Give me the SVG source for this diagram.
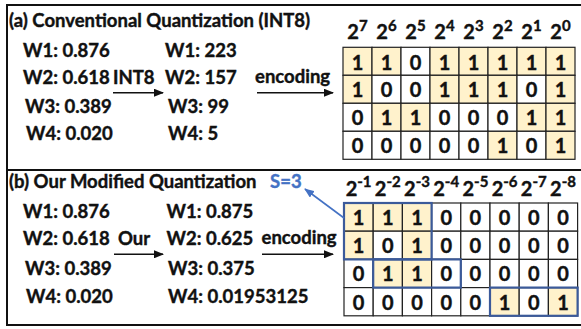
<svg xmlns="http://www.w3.org/2000/svg" width="581" height="329" viewBox="0 0 581 329">
<defs>
<style>
text{font-family:Lato,"Liberation Sans",sans-serif;font-weight:700;fill:#111;stroke:#111;stroke-width:0.4;}
.t{font-size:18.5px;}
.d{font-size:20px;text-anchor:middle;}
.h{font-size:20px;text-anchor:middle;}
.sup{font-size:15px;}
.blue-t{fill:#4472C4;stroke:#4472C4;}
.c0{fill:#fff;stroke:#222;stroke-width:1.2;}
.c1{fill:#FFF2CC;stroke:#222;stroke-width:1.2;}
.blue{fill:none;stroke:#3B5A9A;stroke-width:2.2;}
.frame{fill:none;stroke:#111;stroke-width:2;}
.arr{stroke:#111;stroke-width:1.6;fill:none;marker-end:url(#ah);}
</style>
<marker id="ah" markerWidth="10" markerHeight="8" refX="9" refY="4" orient="auto" markerUnits="userSpaceOnUse">
<path d="M0,0 L10,4 L0,8 Z" fill="#111"/>
</marker>
<marker id="ahb" markerWidth="10" markerHeight="8" refX="9" refY="4" orient="auto" markerUnits="userSpaceOnUse">
<path d="M0,0 L10,4 L0,8 Z" fill="#4472C4"/>
</marker>
</defs>
<rect width="581" height="329" fill="#fff"/>
<g id="frame">
<rect class="frame" x="7" y="5" width="600" height="320"/>
<line x1="7" y1="170" x2="581" y2="170" stroke="#111" stroke-width="2"/>
</g>

<g id="panel-a">
<text class="t" x="9" y="27">(a) Conventional Quantization (INT8)</text>
<text class="t" x="23" y="57">W1: 0.876</text>
<text class="t" x="23" y="84">W2: 0.618</text>
<text class="t" x="25" y="113">W3: 0.389</text>
<text class="t" x="26" y="140">W4: 0.020</text>
<text class="t" x="113" y="84">INT8</text>
<text class="t" x="165" y="57">W1: 223</text>
<text class="t" x="165" y="84">W2: 157</text>
<text class="t" x="168" y="113">W3: 99</text>
<text class="t" x="168" y="140">W4: 5</text>
<text class="t" x="255" y="83">encoding</text>
</g>

<g id="grid-a">
<g id="grid-a-header">
<text class="h" x="357.5" y="39">2<tspan class="sup" dy="-8">7</tspan></text>
<text class="h" x="386.5" y="39">2<tspan class="sup" dy="-8">6</tspan></text>
<text class="h" x="415.5" y="39">2<tspan class="sup" dy="-8">5</tspan></text>
<text class="h" x="444.5" y="39">2<tspan class="sup" dy="-8">4</tspan></text>
<text class="h" x="473.5" y="39">2<tspan class="sup" dy="-8">3</tspan></text>
<text class="h" x="502.5" y="39">2<tspan class="sup" dy="-8">2</tspan></text>
<text class="h" x="531.5" y="39">2<tspan class="sup" dy="-8">1</tspan></text>
<text class="h" x="560.5" y="39">2<tspan class="sup" dy="-8">0</tspan></text>
</g>
<g id="grid-a-row1">
<rect class="c1" x="343" y="47.3" width="29" height="28"/><rect class="c1" x="372" y="47.3" width="29" height="28"/><rect class="c0" x="401" y="47.3" width="29" height="28"/><rect class="c1" x="430" y="47.3" width="29" height="28"/><rect class="c1" x="459" y="47.3" width="29" height="28"/><rect class="c1" x="488" y="47.3" width="29" height="28"/><rect class="c1" x="517" y="47.3" width="29" height="28"/><rect class="c1" x="546" y="47.3" width="29" height="28"/>
<text class="d" x="357.5" y="69.5">1</text><text class="d" x="386.5" y="69.5">1</text><text class="d" x="415.5" y="69.5">0</text><text class="d" x="444.5" y="69.5">1</text><text class="d" x="473.5" y="69.5">1</text><text class="d" x="502.5" y="69.5">1</text><text class="d" x="531.5" y="69.5">1</text><text class="d" x="560.5" y="69.5">1</text>
</g>
<g id="grid-a-row2">
<rect class="c1" x="343" y="75.3" width="29" height="28"/><rect class="c0" x="372" y="75.3" width="29" height="28"/><rect class="c0" x="401" y="75.3" width="29" height="28"/><rect class="c1" x="430" y="75.3" width="29" height="28"/><rect class="c1" x="459" y="75.3" width="29" height="28"/><rect class="c1" x="488" y="75.3" width="29" height="28"/><rect class="c0" x="517" y="75.3" width="29" height="28"/><rect class="c1" x="546" y="75.3" width="29" height="28"/>
<text class="d" x="357.5" y="97.3">1</text><text class="d" x="386.5" y="97.3">0</text><text class="d" x="415.5" y="97.3">0</text><text class="d" x="444.5" y="97.3">1</text><text class="d" x="473.5" y="97.3">1</text><text class="d" x="502.5" y="97.3">1</text><text class="d" x="531.5" y="97.3">0</text><text class="d" x="560.5" y="97.3">1</text>
</g>
<g id="grid-a-row3">
<rect class="c0" x="343" y="103.3" width="29" height="28"/><rect class="c1" x="372" y="103.3" width="29" height="28"/><rect class="c1" x="401" y="103.3" width="29" height="28"/><rect class="c0" x="430" y="103.3" width="29" height="28"/><rect class="c0" x="459" y="103.3" width="29" height="28"/><rect class="c0" x="488" y="103.3" width="29" height="28"/><rect class="c1" x="517" y="103.3" width="29" height="28"/><rect class="c1" x="546" y="103.3" width="29" height="28"/>
<text class="d" x="357.5" y="125.3">0</text><text class="d" x="386.5" y="125.3">1</text><text class="d" x="415.5" y="125.3">1</text><text class="d" x="444.5" y="125.3">0</text><text class="d" x="473.5" y="125.3">0</text><text class="d" x="502.5" y="125.3">0</text><text class="d" x="531.5" y="125.3">1</text><text class="d" x="560.5" y="125.3">1</text>
</g>
<g id="grid-a-row4">
<rect class="c0" x="343" y="131.3" width="29" height="28"/><rect class="c0" x="372" y="131.3" width="29" height="28"/><rect class="c0" x="401" y="131.3" width="29" height="28"/><rect class="c0" x="430" y="131.3" width="29" height="28"/><rect class="c0" x="459" y="131.3" width="29" height="28"/><rect class="c1" x="488" y="131.3" width="29" height="28"/><rect class="c0" x="517" y="131.3" width="29" height="28"/><rect class="c1" x="546" y="131.3" width="29" height="28"/>
<text class="d" x="357.5" y="153.3">0</text><text class="d" x="386.5" y="153.3">0</text><text class="d" x="415.5" y="153.3">0</text><text class="d" x="444.5" y="153.3">0</text><text class="d" x="473.5" y="153.3">0</text><text class="d" x="502.5" y="153.3">1</text><text class="d" x="531.5" y="153.3">0</text><text class="d" x="560.5" y="153.3">1</text>
</g>
</g>

<g id="panel-b">
<text class="t" x="9" y="188">(b) Our Modified Quantization</text>
<text class="t blue-t" x="270" y="188">S=3</text>
<text class="t" x="23" y="218">W1: 0.876</text>
<text class="t" x="23" y="245">W2: 0.618</text>
<text class="t" x="25" y="275">W3: 0.389</text>
<text class="t" x="26" y="303">W4: 0.020</text>
<text class="t" x="118" y="245">Our</text>
<text class="t" x="166.5" y="218">W1: 0.875</text>
<text class="t" x="166.5" y="245">W2: 0.625</text>
<text class="t" x="168" y="275">W3: 0.375</text>
<text class="t" x="168" y="303">W4: 0.01953125</text>
<text class="t" x="261.5" y="244">encoding</text>
</g>

<g id="grid-b">
<g id="grid-b-header">
<text class="h" x="358.6" y="196">2<tspan class="sup" dy="-9">-1</tspan></text>
<text class="h" x="387.8" y="196">2<tspan class="sup" dy="-9">-2</tspan></text>
<text class="h" x="417" y="196">2<tspan class="sup" dy="-9">-3</tspan></text>
<text class="h" x="446.2" y="196">2<tspan class="sup" dy="-9">-4</tspan></text>
<text class="h" x="475.4" y="196">2<tspan class="sup" dy="-9">-5</tspan></text>
<text class="h" x="504.6" y="196">2<tspan class="sup" dy="-9">-6</tspan></text>
<text class="h" x="533.8" y="196">2<tspan class="sup" dy="-9">-7</tspan></text>
<text class="h" x="563" y="196">2<tspan class="sup" dy="-9">-8</tspan></text>
</g>
<g id="grid-b-row1">
<rect class="c1" x="344" y="203" width="29.2" height="28.2"/><rect class="c1" x="373.2" y="203" width="29.2" height="28.2"/><rect class="c1" x="402.4" y="203" width="29.2" height="28.2"/><rect class="c0" x="431.6" y="203" width="29.2" height="28.2"/><rect class="c0" x="460.8" y="203" width="29.2" height="28.2"/><rect class="c0" x="490" y="203" width="29.2" height="28.2"/><rect class="c0" x="519.2" y="203" width="29.2" height="28.2"/><rect class="c0" x="548.4" y="203" width="29.2" height="28.2"/>
<text class="d" x="358.6" y="225">1</text><text class="d" x="387.8" y="225">1</text><text class="d" x="417" y="225">1</text><text class="d" x="446.2" y="225">0</text><text class="d" x="475.4" y="225">0</text><text class="d" x="504.6" y="225">0</text><text class="d" x="533.8" y="225">0</text><text class="d" x="563" y="225">0</text>
</g>
<g id="grid-b-row2">
<rect class="c1" x="344" y="231.2" width="29.2" height="28.2"/><rect class="c0" x="373.2" y="231.2" width="29.2" height="28.2"/><rect class="c1" x="402.4" y="231.2" width="29.2" height="28.2"/><rect class="c0" x="431.6" y="231.2" width="29.2" height="28.2"/><rect class="c0" x="460.8" y="231.2" width="29.2" height="28.2"/><rect class="c0" x="490" y="231.2" width="29.2" height="28.2"/><rect class="c0" x="519.2" y="231.2" width="29.2" height="28.2"/><rect class="c0" x="548.4" y="231.2" width="29.2" height="28.2"/>
<text class="d" x="358.6" y="253.2">1</text><text class="d" x="387.8" y="253.2">0</text><text class="d" x="417" y="253.2">1</text><text class="d" x="446.2" y="253.2">0</text><text class="d" x="475.4" y="253.2">0</text><text class="d" x="504.6" y="253.2">0</text><text class="d" x="533.8" y="253.2">0</text><text class="d" x="563" y="253.2">0</text>
</g>
<g id="grid-b-row3">
<rect class="c0" x="344" y="259.4" width="29.2" height="28.2"/><rect class="c1" x="373.2" y="259.4" width="29.2" height="28.2"/><rect class="c1" x="402.4" y="259.4" width="29.2" height="28.2"/><rect class="c0" x="431.6" y="259.4" width="29.2" height="28.2"/><rect class="c0" x="460.8" y="259.4" width="29.2" height="28.2"/><rect class="c0" x="490" y="259.4" width="29.2" height="28.2"/><rect class="c0" x="519.2" y="259.4" width="29.2" height="28.2"/><rect class="c0" x="548.4" y="259.4" width="29.2" height="28.2"/>
<text class="d" x="358.6" y="281.4">0</text><text class="d" x="387.8" y="281.4">1</text><text class="d" x="417" y="281.4">1</text><text class="d" x="446.2" y="281.4">0</text><text class="d" x="475.4" y="281.4">0</text><text class="d" x="504.6" y="281.4">0</text><text class="d" x="533.8" y="281.4">0</text><text class="d" x="563" y="281.4">0</text>
</g>
<g id="grid-b-row4">
<rect class="c0" x="344" y="287.6" width="29.2" height="28.2"/><rect class="c0" x="373.2" y="287.6" width="29.2" height="28.2"/><rect class="c0" x="402.4" y="287.6" width="29.2" height="28.2"/><rect class="c0" x="431.6" y="287.6" width="29.2" height="28.2"/><rect class="c0" x="460.8" y="287.6" width="29.2" height="28.2"/><rect class="c1" x="490" y="287.6" width="29.2" height="28.2"/><rect class="c0" x="519.2" y="287.6" width="29.2" height="28.2"/><rect class="c1" x="548.4" y="287.6" width="29.2" height="28.2"/>
<text class="d" x="358.6" y="309.6">0</text><text class="d" x="387.8" y="309.6">0</text><text class="d" x="417" y="309.6">0</text><text class="d" x="446.2" y="309.6">0</text><text class="d" x="475.4" y="309.6">0</text><text class="d" x="504.6" y="309.6">1</text><text class="d" x="533.8" y="309.6">0</text><text class="d" x="563" y="309.6">1</text>
</g>
<g id="grid-b-groups">
<rect class="blue" x="344" y="203" width="87.6" height="56.4"/>
<rect class="blue" x="373.2" y="259.4" width="87.6" height="28.2"/>
<rect class="blue" x="490" y="287.6" width="87.6" height="28.2"/>
</g>
</g>

<g id="connectors">
<line class="arr" x1="113" y1="92.7" x2="163" y2="92.7"/>
<line class="arr" x1="257" y1="92.7" x2="333" y2="92.7"/>
<line class="arr" x1="114" y1="254.3" x2="163" y2="254.3"/>
<line class="arr" x1="262" y1="254.3" x2="333" y2="254.3"/>
<line x1="344" y1="218" x2="305" y2="189" stroke="#4472C4" stroke-width="1.6" marker-end="url(#ahb)"/>
</g>
</svg>
